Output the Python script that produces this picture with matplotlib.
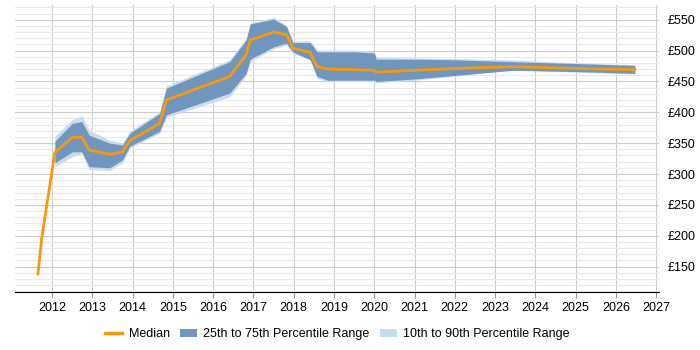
import numpy as np
import matplotlib.pyplot as plt
from matplotlib.patches import Patch
from matplotlib.lines import Line2D
from matplotlib.ticker import MultipleLocator, FuncFormatter

plt.rcParams['font.family'] = ['Liberation Sans', 'DejaVu Sans']

years = [2011.65, 2011.74, 2012.07, 2012.5, 2012.74, 2012.92, 2013.43, 2013.75,
         2013.93, 2014.67, 2014.84, 2016.41, 2016.82, 2016.92, 2017.5, 2017.82,
         2017.98, 2018.41, 2018.58, 2018.85, 2019.53, 2020.0, 2020.05, 2021.0,
         2022.04, 2023.44, 2025.0, 2026.47]
median = [138, 194, 335, 359, 360, 339, 332, 336,
          354, 382, 420, 458, 493, 517, 530, 526,
          504, 497, 474, 470, 469, 468, 465, 468,
          471, 474, 471, 469]
p25 = [np.nan, np.nan, 318, 336, 336, 312, 310, 323,
       345, 369, 396, 431, 463, 486, 506, 512,
       498, 485, 458, 452, 452, 452, 450, 454,
       460, 468, 466, 463]
p75 = [np.nan, np.nan, 353, 382, 385, 363, 350, 347,
       366, 398, 439, 482, 517, 543, 551, 539,
       513, 513, 498, 498, 498, 496, 486, 486,
       485, 482, 479, 476]
p10 = [np.nan, np.nan, 312, 328, 333, 307, 306, 318,
       342, 366, 392, 425, 459, 482, 503, 509,
       495, 485, 455, 450, 450, 450, 448, 452,
       459, 469, 465, 462]
p90 = [np.nan, np.nan, 361, 388, 394, 371, 355, 350,
       369, 401, 443, 485, 520, 544, 554, 541,
       515, 516, 501, 501, 501, 498, 489, 488,
       487, 485, 480, 477]

fig = plt.figure(figsize=(7, 3.5), dpi=100)
ax = fig.add_axes([0.0214, 0.166, 0.92, 0.82])

light = '#c9dcee'
dark = '#7096bd'
orange = '#f7990f'

ax.fill_between(years, p10, p90, color=light, linewidth=0, zorder=2)
ax.fill_between(years, p25, p75, color=dark, linewidth=0, zorder=3)
ax.plot(years, median, color=orange, linewidth=2, zorder=4)

ax.set_xlim(2011.08, 2027.07)
ax.set_ylim(109, 574)
ax.xaxis.set_major_locator(MultipleLocator(1))
ax.yaxis.set_major_locator(MultipleLocator(50))
ax.yaxis.set_minor_locator(MultipleLocator(10))
ax.yaxis.set_major_formatter(FuncFormatter(lambda v, p: '£%d' % v))
ax.yaxis.tick_right()
ax.tick_params(axis='y', which='both', length=0, labelsize=9, pad=6)
ax.tick_params(axis='x', length=4, color='#999999', labelsize=9)
ax.grid(axis='y', which='major', color='#cccccc', linewidth=0.8, zorder=0)
ax.grid(axis='y', which='minor', color='#e8e8e8', linewidth=0.8, zorder=0)
ax.grid(axis='x', which='major', color='#cccccc', linewidth=0.8, zorder=0)
ax.set_axisbelow(True)
for s in ['top', 'left', 'right']:
    ax.spines[s].set_visible(False)
ax.spines['bottom'].set_color('black')

handles = [Line2D([0], [0], color=orange, linewidth=2.5),
           Patch(facecolor=dark, edgecolor='none'),
           Patch(facecolor=light, edgecolor='none')]
labels = ['Median', '25th to 75th Percentile Range', '10th to 90th Percentile Range']
fig.legend(handles, labels, loc='center', bbox_to_anchor=(0.482, 0.045), ncol=3,
           frameon=False, fontsize=9, handlelength=1.4, handletextpad=0.5,
           columnspacing=0.8)

fig.savefig('out.png', dpi=100)
